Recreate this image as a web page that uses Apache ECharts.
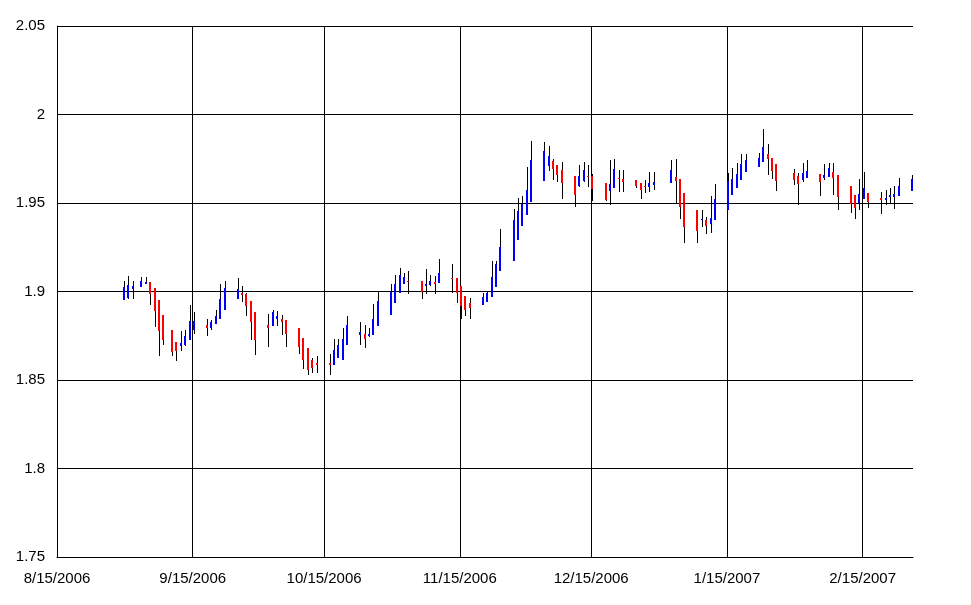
<!DOCTYPE html>
<html>
<head>
<meta charset="utf-8">
<script src="https://cdn.jsdelivr.net/npm/echarts@6/dist/echarts.min.js"></script>
<style>
html,body{margin:0;padding:0;background:#fff;}
#chart{width:971px;height:605px;}
</style>
</head>
<body>
<div id="chart"></div>
<script>
// ---- data ----
const dates = [
'2006-08-30','2006-08-31','2006-09-01','2006-09-03','2006-09-04','2006-09-05','2006-09-06','2006-09-07','2006-09-08',
'2006-09-10','2006-09-11','2006-09-12','2006-09-13','2006-09-14','2006-09-15',
'2006-09-18','2006-09-19','2006-09-20','2006-09-21','2006-09-22',
'2006-09-25','2006-09-26','2006-09-27','2006-09-28','2006-09-29',
'2006-10-02','2006-10-03','2006-10-04','2006-10-05','2006-10-06',
'2006-10-09','2006-10-10','2006-10-11','2006-10-12','2006-10-13',
'2006-10-16','2006-10-17','2006-10-18','2006-10-19','2006-10-20',
'2006-10-23','2006-10-24','2006-10-25','2006-10-26','2006-10-27',
'2006-10-30','2006-10-31','2006-11-01','2006-11-02','2006-11-03',
'2006-11-06','2006-11-07','2006-11-08','2006-11-09','2006-11-10',
'2006-11-13','2006-11-14','2006-11-15','2006-11-16','2006-11-17',
'2006-11-20','2006-11-21','2006-11-22','2006-11-23','2006-11-24',
'2006-11-27','2006-11-28','2006-11-29','2006-11-30','2006-12-01',
'2006-12-04','2006-12-05','2006-12-06','2006-12-07','2006-12-08',
'2006-12-11','2006-12-12','2006-12-13','2006-12-14','2006-12-15',
'2006-12-18','2006-12-19','2006-12-20','2006-12-21','2006-12-22',
'2006-12-25','2006-12-26','2006-12-27','2006-12-28','2006-12-29',
'2007-01-02','2007-01-03','2007-01-04','2007-01-05',
'2007-01-08','2007-01-09','2007-01-10','2007-01-11','2007-01-12',
'2007-01-15','2007-01-16','2007-01-17','2007-01-18','2007-01-19',
'2007-01-22','2007-01-23','2007-01-24','2007-01-25','2007-01-26',
'2007-01-30','2007-01-31','2007-02-01','2007-02-02',
'2007-02-05','2007-02-06','2007-02-07','2007-02-08','2007-02-09',
'2007-02-12','2007-02-13','2007-02-14','2007-02-15','2007-02-16',
'2007-02-19','2007-02-20','2007-02-21','2007-02-22','2007-02-23',
'2007-02-26'
];
const openVals = [
1.8951,1.8965,1.9015,1.9024,1.9045,1.9053,1.9017,1.8951,1.8870,
1.8785,1.8717,1.8690,1.8700,1.8728,1.8780,
1.8809,1.8796,1.8815,1.8842,1.8898,
1.8960,1.8993,1.8985,1.8949,1.8887,
1.8808,1.8804,1.8842,1.8847,1.8838,
1.8796,1.8740,1.8678,1.8615,1.8594,
1.8594,1.8587,1.8627,1.8615,1.8700,
1.8757,1.8762,1.8747,1.8757,1.8804,
1.8870,1.8936,1.8993,1.9044,1.9062,
1.9057,1.9030,1.9036,1.9052,1.9047,
1.9074,1.9074,1.9030,1.8973,1.8936,
1.8921,1.8942,1.8968,1.9024,1.9115,
1.9172,1.9290,1.9370,1.9432,1.9505,
1.9624,1.9709,1.9738,1.9713,1.9685,
1.9653,1.9596,1.9624,1.9653,1.9653,
1.9611,1.9568,1.9587,1.9644,1.9638,
1.9628,1.9611,1.9597,1.9590,1.9602,
1.9615,1.9645,1.9634,1.9555,
1.9458,1.9405,1.9404,1.9383,1.9404,
1.9460,1.9543,1.9587,1.9630,1.9675,
1.9704,1.9732,1.9775,1.9757,1.9720,
1.9667,1.9651,1.9629,1.9642,
1.9662,1.9641,1.9647,1.9674,1.9656,
1.9594,1.9543,1.9502,1.9525,1.9558,
1.9529,1.9517,1.9532,1.9534,1.9541,
1.9567
];
const closeVals = [
1.9024,1.9038,1.9030,1.9062,1.9052,1.8987,1.8889,1.8775,1.8728,
1.8657,1.8662,1.8711,1.8751,1.8832,1.8832,
1.8792,1.8826,1.8864,1.8955,1.9021,
1.9015,1.8981,1.8917,1.8826,1.8728,
1.8796,1.8883,1.8859,1.8826,1.8758,
1.8685,1.8615,1.8559,1.8568,1.8587,
1.8583,1.8672,1.8700,1.8734,1.8813,
1.8774,1.8734,1.8762,1.8847,1.8945,
1.8996,1.9040,1.9091,1.9080,1.9053,
1.8996,1.9040,1.9057,1.9044,1.9102,
1.9070,1.8993,1.8917,1.8898,1.8908,
1.8968,1.8989,1.9081,1.9157,1.9250,
1.9404,1.9455,1.9493,1.9573,1.9742,
1.9794,1.9766,1.9691,1.9657,1.9611,
1.9543,1.9653,1.9685,1.9647,1.9581,
1.9517,1.9606,1.9690,1.9634,1.9619,
1.9596,1.9572,1.9591,1.9611,1.9619,
1.9685,1.9624,1.9477,1.9364,
1.9341,1.9411,1.9370,1.9413,1.9521,
1.9624,1.9638,1.9662,1.9719,1.9742,
1.9755,1.9817,1.9747,1.9681,1.9624,
1.9629,1.9606,1.9667,1.9678,
1.9619,1.9656,1.9700,1.9642,1.9534,
1.9496,1.9472,1.9550,1.9583,1.9506,
1.9515,1.9531,1.9547,1.9549,1.9595,
1.9634
];
const lowVals = [
1.8951,1.8958,1.8960,1.9024,1.9045,1.8921,1.8798,1.8634,1.8700,
1.8638,1.8610,1.8662,1.8690,1.8728,1.8762,
1.8747,1.8780,1.8815,1.8842,1.8898,
1.8960,1.8940,1.8864,1.8728,1.8640,
1.8685,1.8804,1.8804,1.8757,1.8685,
1.8648,1.8563,1.8530,1.8540,1.8540,
1.8530,1.8587,1.8627,1.8615,1.8700,
1.8695,1.8683,1.8745,1.8757,1.8804,
1.8870,1.8936,1.8993,1.9044,1.8987,
1.8959,1.8987,1.9030,1.8987,1.9047,
1.8993,1.8937,1.8847,1.8860,1.8842,
1.8921,1.8942,1.8968,1.9024,1.9115,
1.9172,1.9290,1.9370,1.9432,1.9505,
1.9624,1.9681,1.9628,1.9619,1.9521,
1.9477,1.9590,1.9620,1.9590,1.9511,
1.9510,1.9487,1.9587,1.9562,1.9562,
1.9587,1.9521,1.9559,1.9562,1.9573,
1.9615,1.9497,1.9412,1.9276,
1.9276,1.9364,1.9327,1.9328,1.9404,
1.9460,1.9543,1.9587,1.9630,1.9675,
1.9704,1.9732,1.9658,1.9634,1.9568,
1.9604,1.9490,1.9619,1.9640,
1.9539,1.9630,1.9647,1.9548,1.9460,
1.9443,1.9411,1.9460,1.9520,1.9473,
1.9438,1.9487,1.9498,1.9466,1.9541,
1.9567
];
const highVals = [
1.9062,1.9090,1.9062,1.9080,1.9080,1.9053,1.9020,1.8951,1.8870,
1.8785,1.8717,1.8775,1.8785,1.8921,1.8883,
1.8842,1.8840,1.8893,1.9040,1.9062,
1.9074,1.9030,1.8990,1.8949,1.8887,
1.8874,1.8898,1.8889,1.8870,1.8838,
1.8796,1.8740,1.8678,1.8626,1.8638,
1.8649,1.8734,1.8734,1.8796,1.8859,
1.8830,1.8813,1.8796,1.8927,1.9000,
1.9040,1.9096,1.9134,1.9102,1.9115,
1.9057,1.9125,1.9096,1.9087,1.9181,
1.9153,1.9074,1.9030,1.8973,1.8965,
1.8989,1.9002,1.9172,1.9172,1.9351,
1.9464,1.9530,1.9540,1.9704,1.9851,
1.9845,1.9822,1.9750,1.9713,1.9732,
1.9653,1.9713,1.9732,1.9713,1.9662,
1.9611,1.9742,1.9751,1.9685,1.9685,
1.9628,1.9611,1.9628,1.9675,1.9675,
1.9742,1.9751,1.9634,1.9555,
1.9458,1.9458,1.9421,1.9540,1.9606,
1.9668,1.9695,1.9725,1.9775,1.9775,
1.9783,1.9917,1.9836,1.9757,1.9720,
1.9690,1.9670,1.9728,1.9742,
1.9662,1.9719,1.9728,1.9728,1.9656,
1.9594,1.9543,1.9633,1.9675,1.9558,
1.9560,1.9572,1.9583,1.9595,1.9644,
1.9657
];
const xTickLabels = ['8/15/2006','9/15/2006','10/15/2006','11/15/2006','12/15/2006','1/15/2007','2/15/2007'];
const yMin = 1.75, yMax = 2.05, yStep = 0.05;
const xMinLabel = '8/15/2006';
const xMaxDate = '2007-02-26T12:00:00';

// ---- helpers ----
function parseISO(s){
  const parts = s.split('T');
  const p = parts[0].split('-').map(Number);
  let hh = 0;
  if (parts[1]) hh = Number(parts[1].split(':')[0]);
  return new Date(p[0], p[1]-1, p[2], hh).getTime();
}
function parseMDY(s){
  const p = s.split('/').map(Number);
  return new Date(p[2], p[0]-1, p[1]).getTime();
}
function fmtMDY(v){
  const d = new Date(v);
  return (d.getMonth()+1) + '/' + d.getDate() + '/' + d.getFullYear();
}

const seriesData = dates.map((d, i) => [parseISO(d), openVals[i], closeVals[i], lowVals[i], highVals[i]]);
const tickValues = xTickLabels.map(parseMDY);

function renderItem(params, api){
  const t = api.value(0), o = api.value(1), c = api.value(2), l = api.value(3), h = api.value(4);
  const pO = api.coord([t, o]);
  const pC = api.coord([t, c]);
  const pL = api.coord([t, l]);
  const pH = api.coord([t, h]);
  const bx = Math.ceil(pO[0] - 0.3);
  const up = c >= o;
  let top = Math.round(Math.min(pO[1], pC[1]));
  let bot = Math.round(Math.max(pO[1], pC[1]));
  if (bot - top < 1) bot = top + 1;
  return {
    type: 'group',
    children: [
      { type: 'line', shape: { x1: bx + 1.5, y1: Math.round(pH[1]), x2: bx + 1.5, y2: Math.round(pL[1]) },
        style: { stroke: '#000000', lineWidth: 1 } },
      { type: 'rect', shape: { x: bx, y: top, width: 2, height: bot - top },
        style: { fill: up ? '#0000ff' : '#ff0000' } }
    ]
  };
}

const chart = echarts.init(document.getElementById('chart'), null, { renderer: 'canvas' });
const labelFont = { fontFamily: 'Liberation Sans, Arial, sans-serif', fontSize: 15, color: '#000' };
chart.setOption({
  animation: false,
  backgroundColor: '#ffffff',
  grid: { left: 57, right: 58, top: 26, bottom: 48, containLabel: false, outerBoundsMode: 'none' },
  xAxis: {
    type: 'value',
    min: parseMDY(xMinLabel),
    max: parseISO(xMaxDate),
    axisLine: { show: true, lineStyle: { color: '#000', width: 1 } },
    axisTick: { show: false, customValues: tickValues },
    axisLabel: Object.assign({ customValues: tickValues, formatter: (v) => fmtMDY(v), margin: 14, hideOverlap: false, showMinLabel: true, showMaxLabel: true }, labelFont),
    splitLine: { show: true, lineStyle: { color: '#000', width: 1 } }
  },
  yAxis: {
    type: 'value',
    min: yMin, max: yMax, interval: yStep,
    axisLine: { show: true, lineStyle: { color: '#000', width: 1 } },
    axisTick: { show: false },
    axisLabel: Object.assign({ margin: 12 }, labelFont),
    splitLine: { show: true, lineStyle: { color: '#000', width: 1 } }
  },
  series: [{
    type: 'custom',
    renderItem: renderItem,
    data: seriesData,
    encode: { x: 0, y: [1, 2, 3, 4] },
    silent: true,
    clip: false
  }]
});
</script>
</body>
</html>
